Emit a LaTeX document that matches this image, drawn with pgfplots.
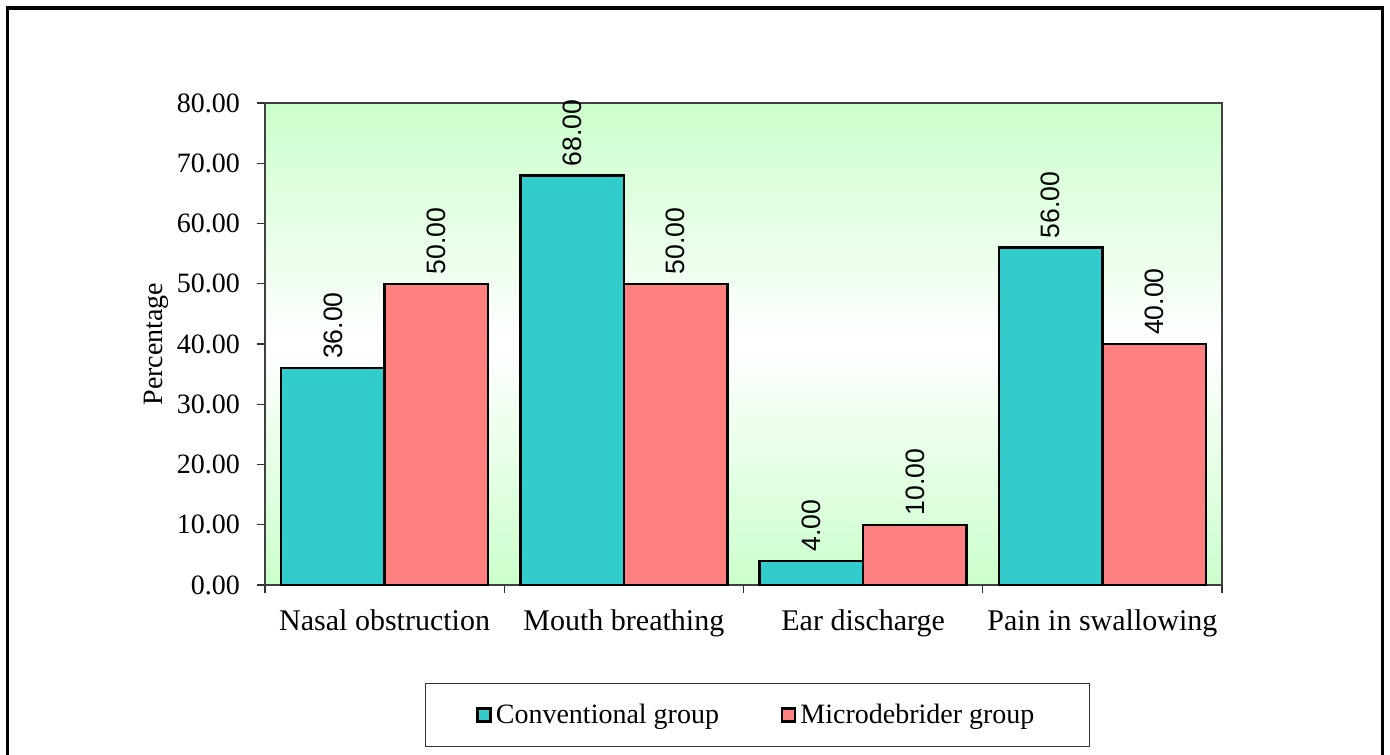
\documentclass[border=0pt]{standalone}
\usepackage{fontspec}
\setmainfont{Liberation Serif}
\newfontfamily\labelfont{Liberation Sans}
\usepackage{pgfplots}
\pgfplotsset{compat=1.18}
\definecolor{teal1}{HTML}{33CCCC}
\definecolor{salmon1}{HTML}{FF8080}
\definecolor{bggreen}{HTML}{CCFFCC}
\begin{document}
\begin{tikzpicture}
\useasboundingbox (0,0) rectangle (695pt,-377pt);
\fill[white] (0,0) rectangle (695pt,-377pt);
\draw[line width=1.6pt] (3.6pt,-4pt) rectangle (691.4pt,-420pt);
\begin{axis}[
  at={(132.5pt,-292.5pt)}, anchor=south west,
  scale only axis, width=478.5pt, height=241pt,
  xmin=-0.5, xmax=3.5, ymin=0, ymax=80,
  ybar=0pt, bar width=0.4326,
  axis background/.style={top color=bggreen, bottom color=bggreen, middle color=white},
  axis line style={draw=black!75, line width=0.6pt},
  tick style={draw=black!80, line width=0.6pt},
  tick align=outside, major tick length=4pt,
  ytick={0,10,...,80}, ytick pos=left,
  yticklabel style={font=\fontsize{14}{16}\selectfont, xshift=-5pt, /pgf/number format/.cd, fixed, fixed zerofill, precision=2, assume math mode=true},
  xtick={0,1,2,3}, xtick pos=bottom,
  xticklabels={Nasal obstruction, Mouth breathing, Ear discharge, Pain in swallowing},
  xticklabel style={font=\fontsize{15}{17}\selectfont, yshift=-5pt},
  major x tick style={draw=none},
  extra x ticks={-0.5,0.5,1.5,2.5,3.5},
  extra x tick labels={},
  extra x tick style={major x tick style={draw=black!80, line width=0.6pt}, tick align=outside},
  ylabel={Percentage},
  ylabel style={font=\fontsize{14}{16}\selectfont, at={(axis description cs:-0.113,0.5)}, anchor=center},
  nodes near coords={\pgfmathprintnumber[fixed,fixed zerofill,precision=2,assume math mode=true]{\pgfplotspointmeta}},
  nodes near coords style={rotate=90, anchor=west, inner xsep=4pt, font=\labelfont\fontsize{13.3}{15}\selectfont, black},
  legend columns=2,
  legend style={at={(0.5146,-0.2697)}, anchor=center, draw=black!80, line width=0.6pt,
    inner xsep=25.5pt, inner ysep=8pt, font=\fontsize{14}{16}\selectfont,
    /tikz/every even column/.append style={column sep=29pt}},
  legend image code/.code={\draw[#1, line width=1.2pt] (0pt,-3.2pt) rectangle (6.5pt,3.2pt);},
]
\addplot[fill=teal1, draw=black, line width=1.2pt] coordinates {(0,36) (1,68) (2,4) (3,56)};
\addplot[fill=salmon1, draw=black, line width=1.2pt] coordinates {(0,50) (1,50) (2,10) (3,40)};
\legend{Conventional group, Microdebrider group}
\end{axis}
\end{tikzpicture}
\end{document}
